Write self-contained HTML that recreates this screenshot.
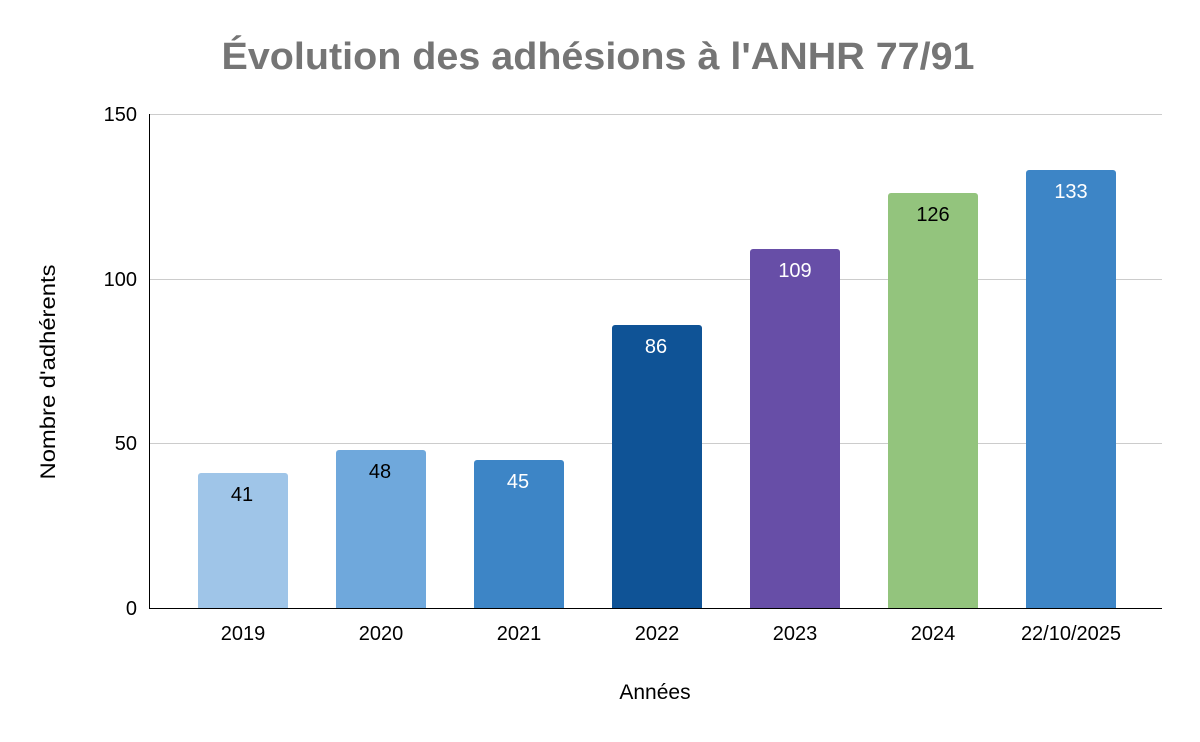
<!DOCTYPE html>
<html><head><meta charset="utf-8"><style>
body{margin:0;background:#fff;}
svg{display:block;font-family:"Liberation Sans",Arial,sans-serif;}
</style></head><body>
<svg width="1200" height="742" viewBox="0 0 1200 742">
<rect width="1200" height="742" fill="#fff"/>
<text x="598" y="69" text-anchor="middle" font-size="38" font-weight="bold" fill="#757575" textLength="753" lengthAdjust="spacingAndGlyphs">Évolution des adhésions à l'ANHR 77/91</text>
<g stroke="#cccccc" stroke-width="1">
<line x1="149" y1="114.5" x2="1162" y2="114.5"/>
<line x1="149" y1="279.5" x2="1162" y2="279.5"/>
<line x1="149" y1="443.5" x2="1162" y2="443.5"/>
</g>
<g font-size="20" fill="#000" text-anchor="end">
<text x="137" y="121">150</text>
<text x="137" y="286">100</text>
<text x="137" y="450">50</text>
<text x="137" y="615">0</text>
</g>
<text transform="translate(55,372) rotate(-90)" text-anchor="middle" font-size="21" textLength="215" lengthAdjust="spacingAndGlyphs">Nombre d'adhérents</text>
<text x="655" y="699" text-anchor="middle" font-size="21">Années</text>
<g>
<path d="M198,608V476a3,3 0 0 1 3,-3h84a3,3 0 0 1 3,3V608Z" fill="#9fc5e8"/>
<path d="M336,608V453a3,3 0 0 1 3,-3h84a3,3 0 0 1 3,3V608Z" fill="#6fa8dc"/>
<path d="M474,608V463a3,3 0 0 1 3,-3h84a3,3 0 0 1 3,3V608Z" fill="#3d85c6"/>
<path d="M612,608V328a3,3 0 0 1 3,-3h84a3,3 0 0 1 3,3V608Z" fill="#0f5396"/>
<path d="M750,608V252a3,3 0 0 1 3,-3h84a3,3 0 0 1 3,3V608Z" fill="#674ea7"/>
<path d="M888,608V196a3,3 0 0 1 3,-3h84a3,3 0 0 1 3,3V608Z" fill="#93c47d"/>
<path d="M1026,608V173a3,3 0 0 1 3,-3h84a3,3 0 0 1 3,3V608Z" fill="#3d85c6"/>
</g>
<g font-size="20" text-anchor="middle">
<text x="242" y="501" fill="#000">41</text>
<text x="380" y="478" fill="#000">48</text>
<text x="518" y="488" fill="#fff">45</text>
<text x="656" y="353" fill="#fff">86</text>
<text x="795" y="277" fill="#fff">109</text>
<text x="933" y="221" fill="#000">126</text>
<text x="1071" y="198" fill="#fff">133</text>
</g>
<line x1="149.5" y1="114" x2="149.5" y2="609" stroke="#000" stroke-width="1"/>
<line x1="149" y1="608.5" x2="1162" y2="608.5" stroke="#000" stroke-width="1"/>
<g font-size="20" text-anchor="middle">
<text x="243" y="640">2019</text>
<text x="381" y="640">2020</text>
<text x="519" y="640">2021</text>
<text x="657" y="640">2022</text>
<text x="795" y="640">2023</text>
<text x="933" y="640">2024</text>
<text x="1071" y="640">22/10/2025</text>
</g>
</svg>
</body></html>
